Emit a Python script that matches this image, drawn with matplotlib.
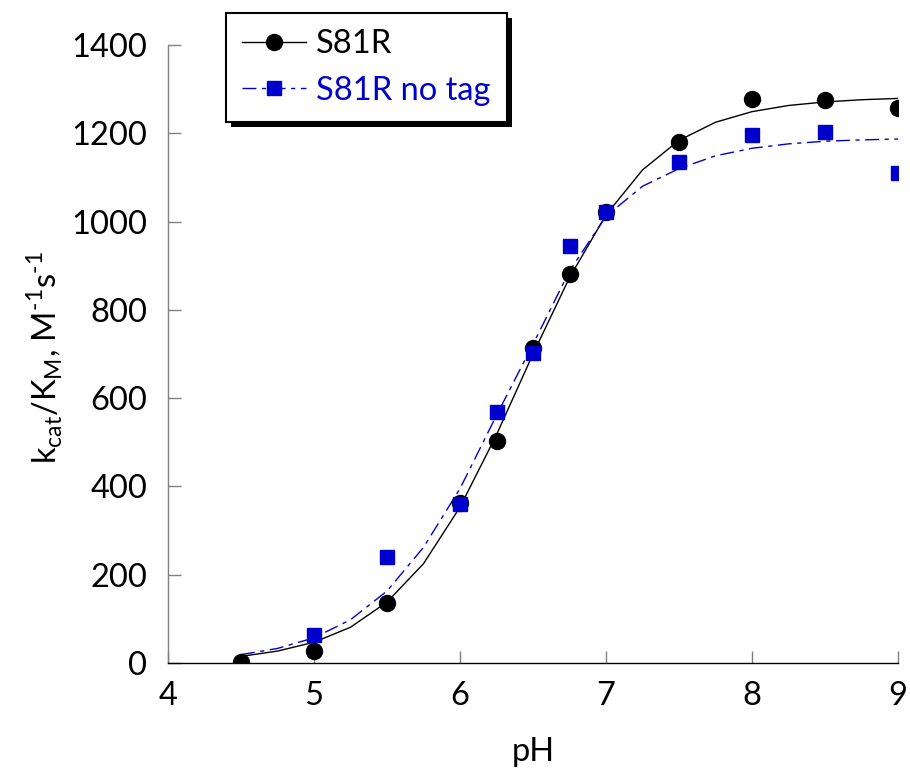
import numpy as np
import matplotlib
matplotlib.use('Agg')
import matplotlib.pyplot as plt
from matplotlib.lines import Line2D
from matplotlib.patches import Rectangle

plt.rcParams['font.family'] = ['Lato', 'DejaVu Sans']
plt.rcParams['mathtext.fontset'] = 'custom'
plt.rcParams['mathtext.rm'] = 'Lato'

# measured points
ph = [4.5, 5.0, 5.5, 6.0, 6.25, 6.5, 6.75, 7.0, 7.5, 8.0, 8.5, 9.0]
s81r = [2, 28, 137, 363, 504, 714, 881, 1022, 1181, 1278, 1276, 1258]
ph_notag = [5.0, 5.5, 6.0, 6.25, 6.5, 6.75, 7.0, 7.5, 8.0, 8.5, 9.0]
s81r_notag = [64, 240, 360, 568, 702, 944, 1021, 1134, 1196, 1204, 1109]

# fitted curves
ph_fit = [4.5, 4.75, 5.0, 5.25, 5.5, 5.75, 6.0, 6.25, 6.5, 6.75, 7.0,
          7.25, 7.5, 7.75, 8.0, 8.25, 8.5, 8.75, 9.0]
fit_s81r = [15, 27, 47, 81, 138, 225, 353, 517, 700, 873, 1015,
            1117, 1184, 1225, 1249, 1263, 1271, 1276, 1279]
fit_notag = [19, 33, 57, 98, 163, 262, 395, 561, 722, 888, 1012,
             1080, 1120, 1149, 1166, 1176, 1182, 1185, 1187]

blue = '#0000cc'
dash = (0, (10, 4, 3, 4))
fs = 23.5

fig = plt.figure(figsize=(9.1, 7.7), dpi=100)
ax = fig.add_axes([168/910, 1-663/770, 730/910, 618/770])

ax.plot(ph_fit, fit_s81r, color='black', lw=1.0)
ax.plot(ph_fit, fit_notag, color=blue, lw=1.0, linestyle=dash)
ax.plot(ph, s81r, 'o', color='black', ms=11.5, ls='none')
ax.plot(ph_notag, s81r_notag, 's', color=blue, ms=9.5, ls='none')

ax.set_xlim(4, 9)
ax.set_ylim(0, 1400)
ax.set_xticks([4, 5, 6, 7, 8, 9])
ax.set_yticks(range(0, 1401, 200))
ax.tick_params(direction='in', length=9, width=1, color='#808080',
               labelsize=fs, pad=13)
ax.tick_params(axis='y', pad=15)
ax.spines['top'].set_visible(False)
ax.spines['right'].set_visible(False)
ax.spines['left'].set_color('#808080')
ax.spines['bottom'].set_color('black')
for s in ['left', 'bottom']:
    ax.spines[s].set_linewidth(1.0)
ax.patch.set_visible(False)

fig.text(533/910, 1-752/770, 'pH', fontsize=fs, ha='center', va='center')
fig.text(45/910, 1-358/770,
         r'k$_\mathregular{cat}$/K$_\mathregular{M}$, M$^\text{-1}$s$^\text{-1}$',
         fontsize=fs, rotation=90, ha='center', va='center')

handles = [Line2D([], [], color='black', lw=1.0, marker='o', ms=11.5),
           Line2D([], [], color=blue, lw=1.0, linestyle=dash, marker='s', ms=9.5)]
leg = fig.legend(handles, ['S81R', 'S81R no tag'], loc='upper left',
                 bbox_to_anchor=(226/910, 1-13/770), fontsize=fs,
                 frameon=True, fancybox=False, framealpha=1,
                 handlelength=1.95, handletextpad=0.3, borderpad=0.5,
                 labelspacing=0.5, borderaxespad=0)
leg.get_frame().set_edgecolor('black')
leg.get_frame().set_linewidth(1.5)
leg.get_texts()[1].set_color(blue)

# black drop shadow behind the legend box
fig.canvas.draw()
bb = leg.get_window_extent().transformed(fig.transFigure.inverted())
fig.add_artist(Rectangle((bb.x0 + 5/910, bb.y0 - 5/770), bb.width, bb.height,
                         transform=fig.transFigure, facecolor='black',
                         edgecolor='none', zorder=4))

fig.savefig('out.png', dpi=100)
